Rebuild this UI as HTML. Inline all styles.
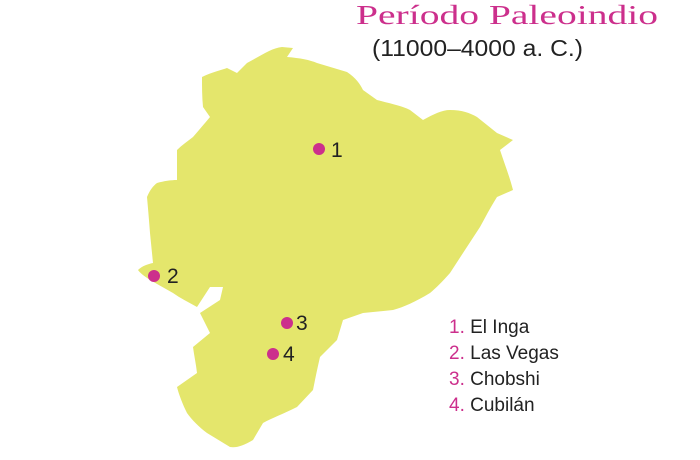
<!DOCTYPE html>
<html><head><meta charset="utf-8"><style>
body{margin:0;background:#fff;}
svg{display:block;}
</style></head><body>
<svg width="700" height="460" viewBox="0 0 700 460" xmlns="http://www.w3.org/2000/svg">
<path fill="#e4e66c" d="M202,77 C212,72 222,70 227,68 L237,73 L247,63 C262,55 272,48 282,47 L293,48 L287,57 C300,58 310,60 317,63 L347,72 C356,78 360,84 363,90 L377,100 C392,104 402,106 410,110 L423,120 C434,114 442,110 450,110 C462,110 470,113 477,117 L497,133 L513,140 L500,150 C505,165 510,178 513,190 L497,197 C490,208 485,218 480,227 L463,253 L450,273 C442,282 436,288 430,293 C415,302 404,307 393,310 L363,313 L343,320 L337,340 L320,357 C317,370 315,380 313,390 L297,407 C283,414 272,418 263,423 L253,440 C243,446 236,448 230,447 L207,433 C199,427 192,420 187,413 C183,405 179,395 177,387 L197,373 C196,364 194,355 193,347 L210,333 L200,313 L220,300 L223,287 L210,287 L197,307 C188,302 180,298 173,293 L150,280 C144,276 140,273 138,270 C142,266 148,264 153,263 C152,253 151,243 150,233 C149,220 148,208 147,197 C150,190 153,186 157,183 C164,181 171,180 177,180 C177,170 177,160 177,150 C182,145 188,141 193,137 C199,130 205,123 210,117 L203,107 C202,97 202,87 202,77 Z"/>
<g font-family="'Liberation Sans',sans-serif" font-size="21" fill="#222">
<circle cx="319" cy="149" r="6" fill="#cc2f8c"/>
<text x="331" y="157">1</text>
<circle cx="154" cy="276" r="6" fill="#cc2f8c"/>
<text x="167" y="283">2</text>
<circle cx="287" cy="323" r="6" fill="#cc2f8c"/>
<text x="296" y="330">3</text>
<circle cx="273" cy="354" r="6" fill="#cc2f8c"/>
<text x="283" y="361">4</text>
</g>
<text x="356" y="24" textLength="302" lengthAdjust="spacingAndGlyphs" font-family="'Liberation Serif',serif" font-size="27" fill="#cc2f8c">Período Paleoindio</text>
<text x="372" y="56" textLength="211" lengthAdjust="spacingAndGlyphs" font-family="'Liberation Sans',sans-serif" font-size="23" fill="#222">(11000–4000 a. C.)</text>
<g font-family="'Liberation Sans',sans-serif" font-size="19" fill="#222">
<text x="449" y="333"><tspan fill="#cc2f8c">1. </tspan>El Inga</text>
<text x="449" y="359"><tspan fill="#cc2f8c">2. </tspan>Las Vegas</text>
<text x="449" y="385"><tspan fill="#cc2f8c">3. </tspan>Chobshi</text>
<text x="449" y="411"><tspan fill="#cc2f8c">4. </tspan>Cubilán</text>
</g>
</svg>
</body></html>
